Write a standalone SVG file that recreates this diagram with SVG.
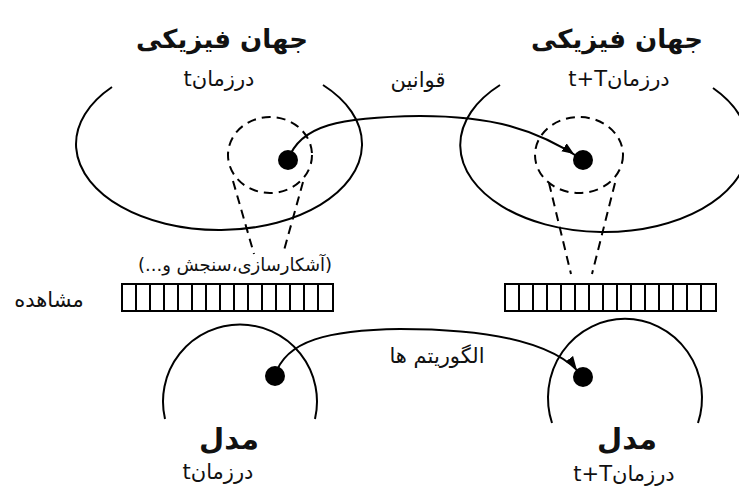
<svg xmlns="http://www.w3.org/2000/svg" width="739" height="489" viewBox="0 0 739 489">
<defs>
<style>
.ln{fill:none;stroke:#000;stroke-width:2}
.dash{fill:none;stroke:#000;stroke-width:2;stroke-dasharray:9 6}
.dot{fill:#000}
.t{font-family:"DejaVu Sans",sans-serif;fill:#111;text-anchor:middle;direction:rtl}
.title{font-size:26px;font-weight:bold}
.sub{font-size:21px}
.lbl{font-size:21px}
.mdl{font-size:29px;font-weight:bold}
</style>
<marker id="arr" viewBox="0 0 10 8" markerWidth="6" markerHeight="5" refX="19" refY="4" orient="auto" markerUnits="strokeWidth">
<path d="M0,0 L10,4 L0,8 z" fill="#000"/>
</marker>
</defs>

<g id="world-t">
<path class="ln" d="M112,87 A143,86 0 1 0 323,85"/>
<ellipse class="dash" cx="270" cy="155" rx="42" ry="38"/>
<line class="dash" x1="233" y1="181" x2="254" y2="254"/>
<line class="dash" x1="303" y1="182" x2="283" y2="254"/>
<circle class="dot" cx="288" cy="160" r="10"/>
<text class="t title" x="222" y="48">جهان فیزیکی</text>
<text class="t sub" x="219" y="86">درزمانt</text>
</g>

<g id="world-tT">
<path class="ln" d="M500,85 A144,87 0 1 0 713,88"/>
<ellipse class="dash" cx="579" cy="155" rx="44" ry="38"/>
<line class="dash" x1="549" y1="183" x2="571" y2="274"/>
<line class="dash" x1="615" y1="183" x2="592" y2="274"/>
<circle class="dot" cx="583" cy="160" r="10"/>
<text class="t title" x="617" y="48">جهان فیزیکی</text>
<text class="t sub" x="619" y="86">درزمانt+T</text>
</g>

<g id="obs-t">
<rect x="122" y="284" width="211" height="27" fill="#fff" stroke="#000" stroke-width="2"/>
<path class="ln" d="M136,284v27M150,284v27M164,284v27M178,284v27M192,284v27M206,284v27M220,284v27M234,284v27M248,284v27M262,284v27M276,284v27M290,284v27M304,284v27M318,284v27"/>
<text class="t lbl" x="235" y="271" style="font-size:18px">(آشکارسازی،سنجش و...)</text>
<text class="t lbl" x="49" y="307">مشاهده</text>
</g>

<g id="obs-tT">
<rect x="505" y="284" width="211" height="27" fill="#fff" stroke="#000" stroke-width="2"/>
<path class="ln" d="M519,284v27M533,284v27M547,284v27M561,284v27M575,284v27M589,284v27M603,284v27M617,284v27M631,284v27M645,284v27M659,284v27M673,284v27M687,284v27M701,284v27"/>
</g>

<g id="model-t">
<path class="ln" d="M165,419 A77,77 0 1 1 315,419"/>
<circle class="dot" cx="275" cy="376" r="10"/>
<text class="t mdl" x="229" y="449">مدل</text>
<text class="t sub" x="218" y="479">درزمانt</text>
</g>

<g id="model-tT">
<path class="ln" d="M552,423 A77,79 0 1 1 698,423"/>
<circle class="dot" cx="583" cy="377" r="10"/>
<text class="t mdl" x="627" y="449">مدل</text>
<text class="t sub" x="624" y="481">درزمانt+T</text>
</g>

<g id="connectors">
<path class="ln" d="M288,160 C300,125 340,117 420,116 C490,116 535,128 583,160" marker-end="url(#arr)"/>
<path class="ln" d="M275,376 C285,340 330,330 400,329 C480,329 555,340 583,377" marker-end="url(#arr)"/>
<text class="t lbl" x="418" y="87">قوانین</text>
<text class="t lbl" x="437" y="363">الگوریتم ها</text>
</g>
</svg>
